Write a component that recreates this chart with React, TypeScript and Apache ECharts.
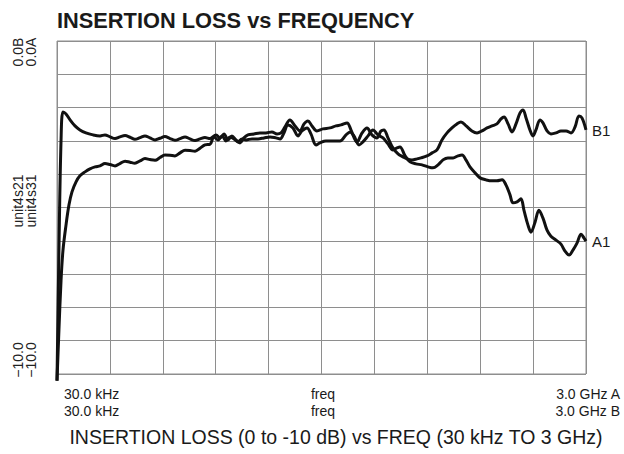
import React, { useEffect, useRef } from "react";
import * as echarts from "echarts";

// Frequency in MHz (0 ≈ 30 kHz start, 3000 = 3 GHz), insertion loss in dB
const traceB: [number, number][] = [
  [0, -10.2], [11, -6.28], [23, -2.97], [34, -2.13], [51, -2.19], [74, -2.37], [102, -2.55], [130, -2.67],
  [164, -2.76], [204, -2.82], [244, -2.85], [272, -2.82], [301, -2.88], [329, -2.93], [357, -2.88], [386, -2.84],
  [414, -2.89], [442, -2.95], [471, -2.9], [499, -2.85], [527, -2.91], [556, -2.97], [584, -2.92], [612, -2.87],
  [641, -2.93], [669, -2.98], [698, -2.93], [726, -2.88], [754, -2.94], [783, -2.99], [811, -2.94], [839, -2.9],
  [868, -2.93], [902, -2.82], [924, -2.91], [947, -2.79], [970, -2.97],
  [992, -2.85], [1015, -2.97], [1038, -3.06], [1060, -2.91], [1083, -2.82], [1117, -2.79], [1151, -2.76],
  [1185, -2.76], [1219, -2.73], [1248, -2.79], [1270, -2.76], [1293, -2.58], [1321, -2.37], [1350, -2.55],
  [1378, -2.7], [1401, -2.49], [1423, -2.4], [1446, -2.55], [1474, -2.7], [1508, -2.64], [1548, -2.61],
  [1582, -2.55], [1611, -2.52], [1645, -2.46], [1667, -2.67], [1701, -3.03], [1730, -2.76], [1758, -2.61],
  [1786, -2.82], [1815, -2.91], [1837, -2.7], [1854, -2.67], [1877, -2.91], [1905, -3.21], [1934, -3.39],
  [1962, -3.48], [1985, -3.54], [2013, -3.57], [2042, -3.54], [2064, -3.51], [2098, -3.45], [2127, -3.36],
  [2155, -3.27], [2183, -2.97], [2212, -2.76], [2240, -2.61], [2268, -2.49], [2291, -2.43], [2320, -2.55],
  [2353, -2.7], [2382, -2.76], [2410, -2.7], [2439, -2.61], [2467, -2.55], [2495, -2.49], [2518, -2.34],
  [2535, -2.28], [2558, -2.49], [2580, -2.73], [2603, -2.49], [2626, -2.16], [2643, -2.07], [2660, -2.31],
  [2682, -2.67], [2699, -2.85], [2716, -2.67], [2739, -2.37], [2756, -2.46], [2779, -2.7], [2801, -2.79],
  [2830, -2.76], [2858, -2.7], [2887, -2.7], [2915, -2.76], [2938, -2.58], [2960, -2.25], [2977, -2.31],
  [3000, -2.67],
];

const traceA: [number, number][] = [
  [0, -10.2], [11, -8.68], [23, -7.18], [34, -6.28], [51, -5.53], [68, -4.92], [85, -4.53], [108, -4.23],
  [130, -4.05], [159, -3.93], [187, -3.84], [216, -3.78], [244, -3.75], [272, -3.68], [301, -3.71], [329, -3.75],
  [357, -3.68], [386, -3.61], [414, -3.64], [442, -3.67], [471, -3.6], [499, -3.53], [527, -3.56], [556, -3.58],
  [584, -3.5], [612, -3.42], [641, -3.43], [669, -3.45], [698, -3.36], [726, -3.28], [754, -3.29], [783, -3.31],
  [811, -3.22], [839, -3.12], [868, -3.1], [890, -2.88], [913, -2.97], [936, -2.85], [958, -3.0], [981, -2.88],
  [1004, -2.94], [1026, -3.03], [1049, -2.94],
  [1072, -2.97], [1106, -2.94], [1140, -2.94], [1174, -2.91], [1208, -2.88], [1242, -2.91], [1265, -2.94],
  [1287, -2.76], [1310, -2.52], [1338, -2.61], [1367, -2.85], [1389, -2.7], [1418, -2.61], [1440, -2.79],
  [1469, -3.12], [1491, -3.06], [1525, -3.0], [1565, -3.0], [1605, -3.0], [1639, -2.82], [1662, -2.73],
  [1684, -2.85], [1713, -3.12], [1735, -3.03], [1764, -2.85], [1792, -2.67], [1820, -2.82], [1849, -2.91],
  [1877, -3.09], [1905, -3.27], [1928, -3.21], [1945, -3.18], [1974, -3.45], [2002, -3.63], [2036, -3.69],
  [2070, -3.72], [2104, -3.78], [2132, -3.81], [2161, -3.72], [2189, -3.57], [2217, -3.51], [2246, -3.51],
  [2274, -3.45], [2297, -3.42], [2319, -3.57], [2342, -3.78], [2371, -3.96], [2399, -4.11], [2433, -4.17],
  [2467, -4.2], [2495, -4.2], [2524, -4.17], [2546, -4.32], [2569, -4.62], [2586, -4.86], [2609, -4.83],
  [2631, -4.74], [2648, -5.08], [2671, -5.53], [2688, -5.74], [2711, -5.44], [2733, -5.08], [2756, -5.32],
  [2779, -5.68], [2801, -5.86], [2830, -5.98], [2858, -6.1], [2881, -6.31], [2904, -6.43], [2926, -6.28],
  [2949, -6.07], [2972, -5.8], [2989, -5.92], [3000, -6.01],
];

const titleText = "INSERTION LOSS vs FREQUENCY";
const captionText = "INSERTION LOSS (0 to -10 dB) vs FREQ (30 kHz TO 3 GHz)";
const yTopLabels = ["0.0B", "0.0A"];
const yMidLabels = ["unit4s21", "unit4s31"];
const yBottomLabels = ["\u221210.0", "\u221210.0"];
const xStartLabels = ["30.0 kHz", "30.0 kHz"];
const xMidLabels = ["freq", "freq"];
const xEndLabels = ["3.0 GHz A", "3.0 GHz B"];
const traceNames = ["A1", "B1"];

const FONT = "'Liberation Sans', Arial, sans-serif";

export default function App() {
  const ref = useRef<HTMLDivElement>(null);
  useEffect(() => {
    if (!ref.current) return;
    const chart = echarts.init(ref.current, null, { renderer: "svg" });
    const gridColor = "#8e8e8e";
    const rot = (text: string, x: number, y: number) => ({
      type: "text",
      x,
      y,
      rotation: Math.PI / 2,
      style: {
        text,
        fill: "#222",
        font: `14px ${FONT}`,
        textAlign: "center",
        textVerticalAlign: "middle",
      },
    });
    const txt = (text: string, x: number, y: number, align: string, size: number, weight = "normal") => ({
      type: "text",
      x,
      y,
      style: {
        text,
        fill: "#1a1a1a",
        font: `${weight} ${size}px ${FONT}`,
        textAlign: align,
        textVerticalAlign: "middle",
      },
    });
    chart.setOption({
      animation: false,
      backgroundColor: "#ffffff",
      grid: {
        left: 57,
        top: 41,
        width: 529,
        height: 333,
        show: true,
        borderColor: gridColor,
        borderWidth: 1,
      },
      xAxis: {
        type: "value",
        min: 0,
        max: 3000,
        interval: 300,
        axisLine: { show: false },
        axisTick: { show: false },
        axisLabel: { show: false },
        splitLine: { show: true, lineStyle: { color: gridColor, width: 1 } },
      },
      yAxis: {
        type: "value",
        min: -10,
        max: 0,
        interval: 1,
        axisLine: { show: false },
        axisTick: { show: false },
        axisLabel: { show: false },
        splitLine: { show: true, lineStyle: { color: gridColor, width: 1 } },
      },
      series: [
        {
          name: traceNames[0],
          type: "line",
          data: traceA,
          showSymbol: false,
          smooth: 0.35,
          clip: false,
          lineStyle: { color: "#111", width: 3 },
        },
        {
          name: traceNames[1],
          type: "line",
          data: traceB,
          showSymbol: false,
          smooth: 0.35,
          clip: false,
          lineStyle: { color: "#111", width: 3 },
        },
      ],
      graphic: [
        txt(titleText, 57, 20, "left", 21.8, "bold"),
        rot(yTopLabels[0], 18, 52),
        rot(yTopLabels[1], 31, 52),
        rot(yMidLabels[0], 18, 201),
        rot(yMidLabels[1], 31, 201),
        rot(yBottomLabels[0], 18, 360),
        rot(yBottomLabels[1], 31, 360),
        txt(xStartLabels[0], 64, 394, "left", 14),
        txt(xStartLabels[1], 64, 411, "left", 14),
        txt(xMidLabels[0], 323, 394, "center", 14),
        txt(xMidLabels[1], 323, 411, "center", 14),
        txt(xEndLabels[0], 620, 394, "right", 14),
        txt(xEndLabels[1], 620, 411, "right", 14),
        txt(captionText, 336, 437, "center", 19.5),
        txt(traceNames[1], 592, 130, "left", 15),
        txt(traceNames[0], 592, 241, "left", 15),
      ],
    });
    return () => chart.dispose();
  }, []);
  return (
    <div
      ref={ref}
      style={{ position: "fixed", left: 0, top: 0, width: 624, height: 454, background: "#fff" }}
    />
  );
}
